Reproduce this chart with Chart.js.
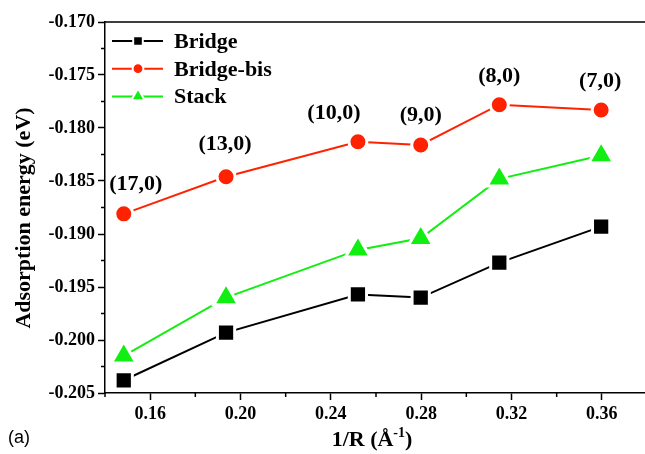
<!DOCTYPE html>
<html>
<head>
<meta charset="utf-8">
<title>Adsorption energy vs 1/R</title>
<script src="https://cdn.jsdelivr.net/npm/chart.js@4/dist/chart.umd.min.js"></script>
<style>
  html, body { margin: 0; padding: 0; background: #ffffff; overflow: hidden; }
  #wrap { width: 648px; height: 454px; }
</style>
</head>
<body>
<div id="wrap"><canvas id="AdsChart" width="648" height="454"></canvas></div>
<script>
  // inverse tube radius (1/Å) for each (n,0) tube
  const invRadius  = [0.1483, 0.1936, 0.2520, 0.2798, 0.3146, 0.3597];
  const tubeLabels = ['(17,0)', '(13,0)', '(10,0)', '(9,0)', '(8,0)', '(7,0)'];

  // adsorption energies (eV)
  const bridge    = [-0.2038, -0.1993, -0.1957, -0.1960, -0.1927, -0.1893];
  const bridgeBis = [-0.1881, -0.1846, -0.1813, -0.1816, -0.1778, -0.1783];
  const stack     = [-0.2015, -0.1960, -0.1915, -0.1904, -0.1848, -0.1826];

  // axis ticks
  const xTicks = [0.16, 0.20, 0.24, 0.28, 0.32, 0.36];
  const yTicks = [-0.205, -0.200, -0.195, -0.190, -0.185, -0.180, -0.175, -0.170];

  const serif = 'Liberation Serif';
  const red   = '#ff2200';
  const green = '#11ee11';

  function pairs(ys) {
    return ys.map(function (y, i) { return { x: invRadius[i], y: y }; });
  }

  function series(label, ys, color, style, radius) {
    return {
      label: label,
      data: pairs(ys),
      borderColor: color,
      backgroundColor: color,
      borderWidth: 2,
      tension: 0,
      pointStyle: style,
      pointRadius: radius,
      pointHoverRadius: radius,
      pointBackgroundColor: color,
      pointBorderColor: '#ffffff',
      pointBorderWidth: 3
    };
  }

  // minor ticks halfway between the major ones
  function midpoints(vals, lo, hi) {
    const out = [];
    for (let i = 0; i < vals.length - 1; i++) out.push((vals[i] + vals[i + 1]) / 2);
    if (lo !== undefined) out.unshift(lo);
    if (hi !== undefined) out.push(hi);
    return out;
  }

  const decor = {
    id: 'decor',
    afterDraw: function (chart) {
      const ctx = chart.ctx;
      const area = chart.chartArea;
      const sx = chart.scales.x;
      const sy = chart.scales.y;
      ctx.save();

      // frame top and right
      ctx.strokeStyle = '#000';
      ctx.lineWidth = 1.5;
      ctx.beginPath();
      ctx.moveTo(area.left, area.top);
      ctx.lineTo(area.right, area.top);
      ctx.lineTo(area.right, area.bottom);
      ctx.stroke();

      // minor ticks
      ctx.beginPath();
      midpoints(xTicks, 0.14, 0.38).forEach(function (v) {
        const px = sx.getPixelForValue(v);
        ctx.moveTo(px, area.bottom);
        ctx.lineTo(px, area.bottom + 4);
      });
      midpoints(yTicks).forEach(function (v) {
        const py = sy.getPixelForValue(v);
        ctx.moveTo(area.left, py);
        ctx.lineTo(area.left - 4, py);
      });
      ctx.stroke();

      // chirality labels above the Bridge-bis points
      const shift = [[12, -30], [-1, -32], [-24, -28], [0, -30], [0, -28], [-1, -29]];
      const pts = chart.getDatasetMeta(1).data;
      ctx.fillStyle = '#000';
      ctx.font = 'bold 22px "' + serif + '"';
      ctx.textAlign = 'center';
      ctx.textBaseline = 'middle';
      tubeLabels.forEach(function (t, i) {
        ctx.fillText(t, pts[i].x + shift[i][0], pts[i].y + shift[i][1]);
      });

      // legend: line with marker, then the name
      const H = Chart.helpers;
      chart.data.datasets.forEach(function (ds, i) {
        const y = 41 + i * 27.7;
        ctx.strokeStyle = ds.borderColor;
        ctx.lineWidth = 2;
        ctx.beginPath();
        ctx.moveTo(112, y);
        ctx.lineTo(163, y);
        ctx.stroke();
        ctx.fillStyle = ds.borderColor;
        ctx.strokeStyle = '#ffffff';
        H.drawPoint(ctx, {
          pointStyle: ds.pointStyle,
          radius: ds.pointStyle === 'rect' ? 6.8 : (ds.pointStyle === 'circle' ? 5.4 : 7.8),
          rotation: 0,
          borderWidth: 1.5
        }, 138, y);
        ctx.fillStyle = '#000';
        ctx.font = 'bold 22px "' + serif + '"';
        ctx.textAlign = 'left';
        ctx.textBaseline = 'alphabetic';
        ctx.fillText(ds.label, 174, y + 7);
      });

      // y axis title
      ctx.save();
      ctx.translate(24, 218);
      ctx.rotate(-Math.PI / 2);
      ctx.font = 'bold 22px "' + serif + '"';
      ctx.textAlign = 'center';
      ctx.textBaseline = 'middle';
      ctx.fillText('Adsorption energy (eV)', 0, 0);
      ctx.restore();

      // x axis title with superscript
      const big = 'bold 22px "' + serif + '"';
      const small = 'bold 14px "' + serif + '"';
      const a = '1/R (Å', b = '-1', c = ')';
      ctx.font = big;
      const wa = ctx.measureText(a).width, wc = ctx.measureText(c).width;
      ctx.font = small;
      const wb = ctx.measureText(b).width;
      let x = 372 - (wa + wb + wc) / 2;
      const base = 446;
      ctx.textAlign = 'left';
      ctx.textBaseline = 'alphabetic';
      ctx.font = big;
      ctx.fillText(a, x, base);
      x += wa;
      ctx.font = small;
      ctx.fillText(b, x, base - 9);
      x += wb;
      ctx.font = big;
      ctx.fillText(c, x, base);

      // panel tag
      ctx.font = '18px "Liberation Sans"';
      ctx.textAlign = 'left';
      ctx.textBaseline = 'middle';
      ctx.fillText('(a)', 8, 438);

      ctx.restore();
    }
  };

  const tickFont = { family: serif, weight: 'bold', size: 18 };

  new Chart(document.getElementById('AdsChart').getContext('2d'), {
    type: 'line',
    data: {
      datasets: [
        series('Bridge', bridge, '#000000', 'rect', 12.2),
        series('Bridge-bis', bridgeBis, red, 'circle', 9),
        series('Stack', stack, green, 'triangle', 14.3)
      ]
    },
    options: {
      responsive: false,
      animation: false,
      devicePixelRatio: 1,
      layout: {
        autoPadding: false,
        padding: { top: 22, right: 1, left: 0, bottom: 0 }
      },
      plugins: {
        legend: { display: false },
        tooltip: { enabled: false }
      },
      scales: {
        x: {
          type: 'linear',
          min: 0.14,
          max: 0.38,
          afterBuildTicks: function (scale) {
            scale.ticks = xTicks.map(function (v) { return { value: v }; });
          },
          afterFit: function (scale) {
            scale.height = 61;
            scale.paddingLeft = 0;
            scale.paddingRight = 0;
          },
          ticks: {
            color: '#000',
            font: tickFont,
            padding: 4,
            maxRotation: 0,
            callback: function (v) { return v.toFixed(2); }
          },
          grid: {
            drawOnChartArea: false,
            drawTicks: true,
            tickLength: 7,
            tickColor: '#000',
            tickWidth: 1.5
          },
          border: { display: true, color: '#000', width: 1.5 }
        },
        y: {
          min: -0.205,
          max: -0.170,
          afterBuildTicks: function (scale) {
            scale.ticks = yTicks.map(function (v) { return { value: v }; });
          },
          afterFit: function (scale) {
            scale.width = 105;
            scale.paddingTop = 0;
            scale.paddingBottom = 0;
          },
          ticks: {
            color: '#000',
            font: tickFont,
            padding: 3,
            callback: function (v) { return v.toFixed(3); }
          },
          grid: {
            drawOnChartArea: false,
            drawTicks: true,
            tickLength: 7,
            tickColor: '#000',
            tickWidth: 1.5
          },
          border: { display: true, color: '#000', width: 1.5 }
        }
      }
    },
    plugins: [decor]
  });
</script>
</body>
</html>
